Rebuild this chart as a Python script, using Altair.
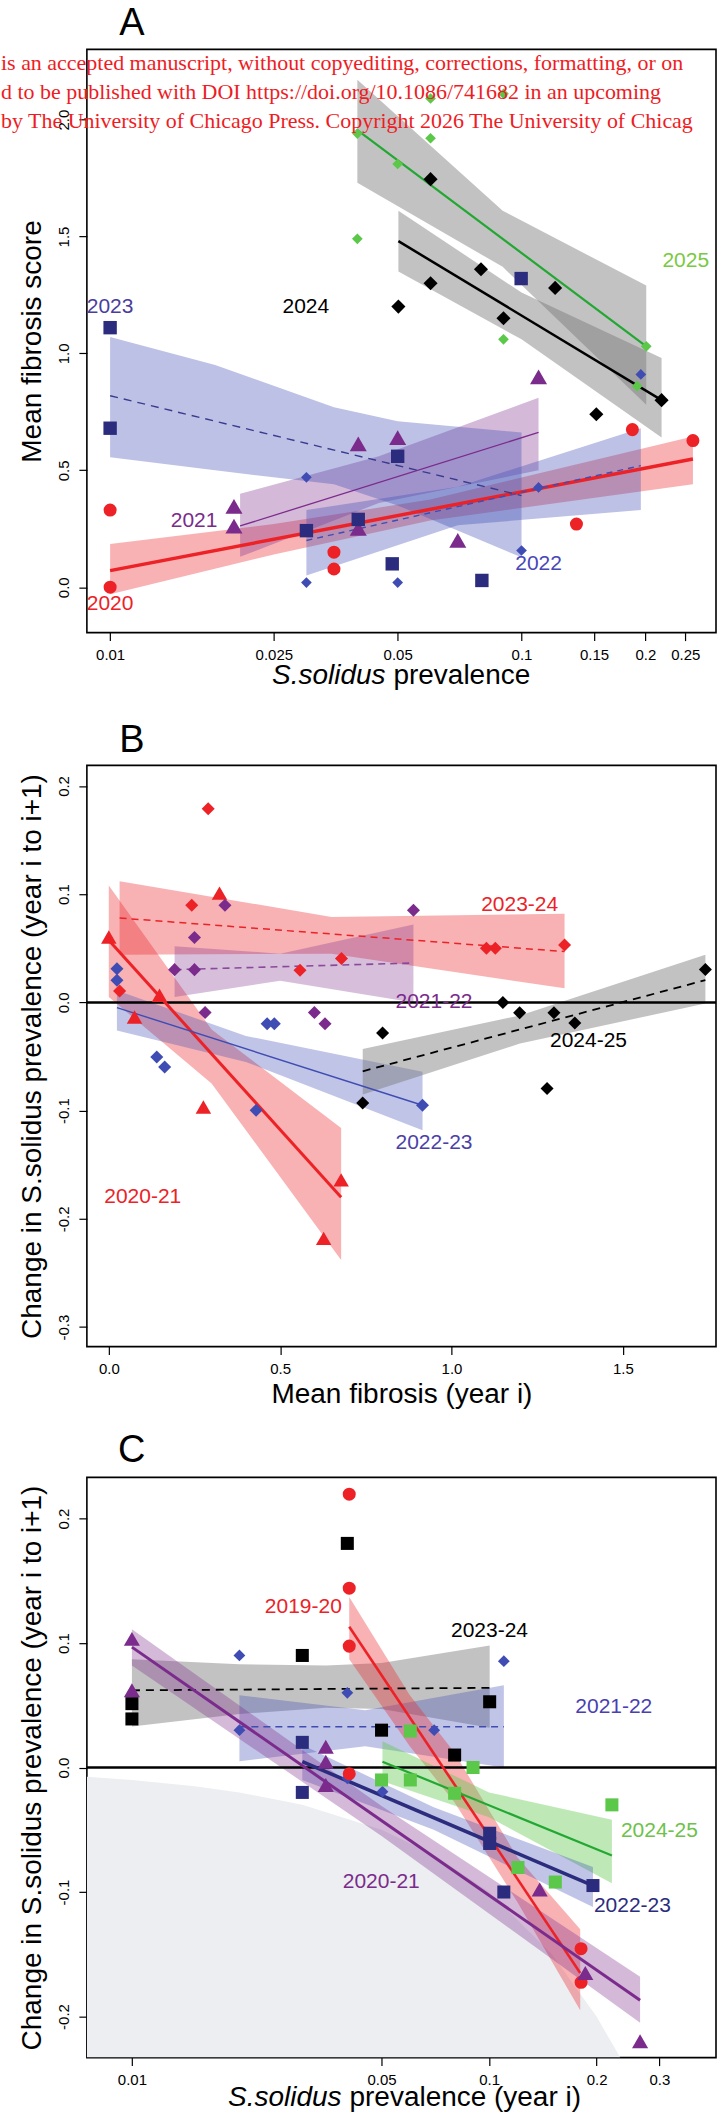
import altair as alt
import pandas as pd

FONT = "Liberation Sans"
W = 630
HA, HB, HC = 584, 582, 581

# ---------------- Panel A : mean fibrosis vs prevalence ----------------
A_X_DOMAIN = [0.00878, 0.297]
A_Y_DOMAIN = [-0.194, 2.30]
A_X_TICKS = [0.01, 0.025, 0.05, 0.1, 0.15, 0.2, 0.25]
A_Y_TICKS = [0.0, 0.5, 1.0, 1.5, 2.0]

A20_X = [0.01, 0.01, 0.035, 0.035, 0.136, 0.186, 0.261]
A20_Y = [0.33, 0.0, 0.15, 0.078, 0.27, 0.674, 0.627]
A20_LX = [0.01, 0.261]
A20_LY = [0.071, 0.548]
A20_BX = [0.01, 0.025, 0.06, 0.261]
A20_LO = [-0.03, 0.14, 0.285, 0.44]
A20_HI = [0.185, 0.27, 0.375, 0.645]

A21_X = [0.020, 0.020, 0.0401, 0.0401, 0.050, 0.070, 0.110]
A21_Y = [0.346, 0.261, 0.613, 0.252, 0.64, 0.20, 0.90]
A21_LX = [0.0207, 0.110]
A21_LY = [0.262, 0.662]
A21_BX = [0.0207, 0.045, 0.110]
A21_LO = [0.13, 0.36, 0.50]
A21_HI = [0.40, 0.56, 0.81]

A22_X = [0.030, 0.030, 0.050, 0.100, 0.110, 0.195]
A22_Y = [0.47, 0.02, 0.02, 0.157, 0.427, 0.91]
A22_LX = [0.030, 0.195]
A22_LY = [0.20, 0.52]
A22_BX = [0.030, 0.07, 0.195]
A22_LO = [0.05, 0.265, 0.33]
A22_HI = [0.33, 0.43, 0.68]

A23_X = [0.01, 0.01, 0.030, 0.0401, 0.0485, 0.050, 0.0801, 0.0998]
A23_Y = [1.11, 0.68, 0.242, 0.29, 0.10, 0.56, 0.029, 1.32]
A23_LX = [0.01, 0.1]
A23_LY = [0.819, 0.392]
A23_BX = [0.01, 0.018, 0.035, 0.05, 0.1]
A23_LO = [0.556, 0.50, 0.44, 0.35, 0.128]
A23_HI = [1.07, 0.95, 0.77, 0.71, 0.662]

A24_X = [0.0502, 0.0601, 0.0601, 0.0797, 0.0904, 0.1207, 0.152, 0.219]
A24_Y = [1.20, 1.30, 1.745, 1.36, 1.15, 1.28, 0.74, 0.80]
A24_LX = [0.0502, 0.219]
A24_LY = [1.48, 0.80]
A24_BX = [0.0502, 0.1, 0.219]
A24_LO = [1.35, 1.06, 0.64]
A24_HI = [1.61, 1.26, 0.98]

A25_X = [0.0399, 0.0399, 0.050, 0.0601, 0.0601, 0.0904, 0.0904, 0.191, 0.201]
A25_Y = [1.94, 1.49, 1.81, 2.09, 1.92, 2.11, 1.06, 0.86, 1.03]
A25_LX = [0.0399, 0.201]
A25_LY = [1.955, 1.03]
A25_BX = [0.0399, 0.09, 0.201]
A25_LO = [1.73, 1.37, 0.78]
A25_HI = [2.17, 1.61, 1.29]

A_LAB_TEXT = ["2020", "2021", "2022", "2023", "2024", "2025"]
A_LAB_X = [0.01, 0.016, 0.110, 0.01, 0.0299, 0.2507]
A_LAB_Y = [-0.071, 0.285, 0.10, 1.197, 1.197, 1.396]

# ---------------- Panel B : change vs mean fibrosis ----------------
B_X_DOMAIN = [-0.064, 1.772]
B_Y_DOMAIN = [-0.318, 0.219]
B_X_TICKS = [0.0, 0.5, 1.0, 1.5]
B_Y_TICKS = [-0.3, -0.2, -0.1, 0.0, 0.1, 0.2]

B2021_X = [0.0, 0.075, 0.148, 0.323, 0.276, 0.678, 0.627]
B2021_Y = [0.0605, -0.0134, 0.0066, 0.101, -0.0966, -0.164, -0.218]
B2021_LX = [0.0, 0.678]
B2021_LY = [0.0575, -0.18]
B2021_BX = [0.0, 0.3, 0.678]
B2021_LO = [0.005, -0.075, -0.238]
B2021_HI = [0.108, -0.025, -0.116]

B2122_X = [0.192, 0.250, 0.250, 0.339, 0.281, 0.600, 0.631, 0.889]
B2122_Y = [0.0303, 0.060, 0.0303, 0.0898, -0.0094, -0.0094, -0.0196, 0.0852]
B2122_LX = [0.192, 0.889]
B2122_LY = [0.0303, 0.0364]
B2122_BX = [0.192, 0.5, 0.889]
B2122_LO = [0.005, 0.02, 0.0]
B2122_HI = [0.052, 0.045, 0.072]

B2223_X = [0.0237, 0.0237, 0.140, 0.163, 0.430, 0.462, 0.483, 0.9155]
B2223_Y = [0.0312, 0.0205, -0.0504, -0.0596, -0.0997, -0.0196, -0.0196, -0.095]
B2223_LX = [0.0237, 0.9155]
B2223_LY = [-0.0048, -0.095]
B2223_BX = [0.0237, 0.4, 0.9155]
B2223_LO = [-0.026, -0.055, -0.118]
B2223_HI = [0.011, -0.031, -0.064]

B2324_X = [0.0315, 0.242, 0.290, 0.558, 0.679, 1.102, 1.128, 1.330]
B2324_Y = [0.0106, 0.0898, 0.179, 0.0297, 0.0405, 0.050, 0.050, 0.053]
B2324_LX = [0.0315, 1.330]
B2324_LY = [0.078, 0.047]
B2324_BX = [0.0315, 0.65, 1.330]
B2324_LO = [0.044, 0.045, 0.013]
B2324_HI = [0.112, 0.079, 0.082]

B2425_X = [0.741, 0.799, 1.150, 1.199, 1.299, 1.279, 1.36, 1.741]
B2425_Y = [-0.0929, -0.0282, 0.0, -0.0096, -0.0096, -0.0795, -0.019, 0.0305]
B2425_LX = [0.741, 1.741]
B2425_LY = [-0.0636, 0.0206]
B2425_BX = [0.741, 1.2, 1.741]
B2425_LO = [-0.085, -0.038, -0.001]
B2425_HI = [-0.043, -0.012, 0.044]

B_LAB_TEXT = ["2023-24", "2021-22", "2022-23", "2024-25", "2020-21"]
B_LAB_X = [1.199, 0.949, 0.949, 1.40, 0.099]
B_LAB_Y = [0.090, 0.0, -0.130, -0.0354, -0.180]

# ---------------- Panel C : change vs prevalence ----------------
C_X_DOMAIN = [0.00748, 0.432]
C_Y_DOMAIN = [-0.233, 0.233]
C_X_TICKS = [0.01, 0.05, 0.1, 0.2, 0.3]
C_Y_TICKS = [-0.2, -0.1, 0.0, 0.1, 0.2]

C_BOUND_X = [0.00748, 0.01, 0.015, 0.02, 0.03, 0.05, 0.07, 0.1, 0.15, 0.2, 0.233]
C_BOUND_Y = [-0.00748, -0.01, -0.015, -0.02, -0.03, -0.05, -0.07, -0.1, -0.15, -0.2, -0.233]

C1920_X = [0.0406, 0.0406, 0.0406, 0.0406, 0.181, 0.181]
C1920_Y = [0.2195, 0.144, 0.0975, -0.005, -0.1455, -0.1725]
C1920_LX = [0.0406, 0.18]
C1920_LY = [0.113, -0.165]
C1920_BX = [0.0406, 0.06, 0.08, 0.12, 0.18]
C1920_LO = [0.087, 0.017, -0.028, -0.108, -0.195]
C1920_HI = [0.137, 0.058, 0.012, -0.072, -0.13]

C2021_X = [0.01, 0.01, 0.0349, 0.0349, 0.0349, 0.1386, 0.186, 0.2648]
C2021_Y = [0.1033, 0.062, 0.0167, 0.0047, -0.014, -0.098, -0.165, -0.2198]
C2021_LX = [0.01, 0.2648]
C2021_LY = [0.0967, -0.187]
C2021_BX = [0.01, 0.05, 0.2648]
C2021_LO = [0.082, -0.055, -0.205]
C2021_HI = [0.111, -0.031, -0.168]

C2122_X = [0.0200, 0.0200, 0.0401, 0.0702, 0.110, 0.0401, 0.0503]
C2122_Y = [0.090, 0.030, 0.060, 0.030, 0.0854, -0.0087, -0.0194]
C2122_LX = [0.02, 0.11]
C2122_LY = [0.0327, 0.0327]
C2122_BX = [0.02, 0.045, 0.11]
C2122_LO = [0.005, 0.017, 0.0]
C2122_HI = [0.058, 0.046, 0.066]

C2223_X = [0.030, 0.030, 0.1004, 0.1004, 0.110, 0.1954]
C2223_Y = [0.0202, -0.020, -0.0528, -0.061, -0.100, -0.0948]
C2223_LX = [0.030, 0.1954]
C2223_LY = [0.0047, -0.0948]
C2223_BX = [0.030, 0.07, 0.1954]
C2223_LO = [-0.01, -0.05, -0.112]
C2223_HI = [0.018, -0.032, -0.08]

C2324_X = [0.01, 0.01, 0.030, 0.0401, 0.050, 0.0801, 0.1004]
C2324_Y = [0.0513, 0.039, 0.090, 0.180, 0.030, 0.010, 0.0528]
C2324_LX = [0.01, 0.1004]
C2324_LY = [0.062, 0.064]
C2324_BX = [0.01, 0.02, 0.035, 0.05, 0.1004]
C2324_LO = [0.033, 0.043, 0.048, 0.047, 0.032]
C2324_HI = [0.087, 0.083, 0.082, 0.084, 0.098]

C2425_X = [0.0602, 0.050, 0.0602, 0.0801, 0.0902, 0.1205, 0.1533, 0.2208]
C2425_Y = [0.0293, -0.010, -0.010, -0.0207, 0.0, -0.0803, -0.092, -0.030]
C2425_LX = [0.0503, 0.2208]
C2425_LY = [0.0047, -0.0707]
C2425_BX = [0.0503, 0.1, 0.2208]
C2425_LO = [-0.011, -0.04, -0.093]
C2425_HI = [0.021, -0.02, -0.042]

C_LAB_TEXT = ["2019-20", "2023-24", "2021-22", "2024-25", "2022-23", "2020-21"]
C_LAB_X = [0.0302, 0.1003, 0.2235, 0.30, 0.252, 0.0499]
C_LAB_Y = [0.1287, 0.110, 0.0486, -0.051, -0.1116, -0.0916]

WATERMARK = [
    "is an accepted manuscript, without copyediting, corrections, formatting, or on",
    "d to be published with DOI https://doi.org/10.1086/741682 in an upcoming",
    "by The University of Chicago Press. Copyright 2026 The University of Chicag",
]

# ---------------- styles ----------------
RED = "#ec2227"
PURPLE = "#7b2b8b"
BLUE = "#3f4cb4"
NAVY = "#2b2c7d"
BLACK = "#000000"
GREEN = "#5cc84a"
GREEN_LINE = "#22a832"
GRAYB = "#777777"


def lin_fmt():
    return "datum.value < 0 ? '-' + format(-datum.value, '.1f') : format(datum.value, '.1f')"


def make_axis(ticks, title, vertical, fmt_expr=None, fmt=None):
    kw = dict(
        values=ticks, grid=False, domain=False,
        tickSize=8, tickWidth=1.2, tickColor="black",
        labelFont=FONT, labelFontSize=15, labelColor="black",
        labelPadding=7, labelOverlap=False, labelFlush=False,
        titleFont=FONT, titleFontSize=28, titleFontWeight="normal",
        titleColor="black",
    )
    kw["title"] = title
    if fmt_expr:
        kw["labelExpr"] = fmt_expr
    if fmt:
        kw["format"] = fmt
    if vertical:
        kw.update(labelAngle=270, labelAlign="center", labelBaseline="bottom", titlePadding=10)
    else:
        kw.update(titlePadding=4)
    return alt.Axis(**kw)


def letter_mark(letter, dy):
    return alt.Chart(pd.DataFrame({"t": [letter]})).mark_text(
        align="center", baseline="middle", font=FONT, fontSize=38, color="black").encode(
        x=alt.value(45), y=alt.value(dy), text="t:N")


def build_panel(series, labels, xdom, ydom, xtype, xticks, yticks, xfmt, xtitle, ytitle,
                height, letter, letter_dy, zero_line=False, background=None, extra_top=None):
    xs = alt.Scale(type=xtype, domain=xdom, nice=False, zero=False)
    ys = alt.Scale(type="linear", domain=ydom, nice=False, zero=False)
    xax = make_axis(xticks, xtitle, False, None, xfmt)
    yax = make_axis(yticks, ytitle, True, lin_fmt())

    def X(f="x"):
        return alt.X(f"{f}:Q", scale=xs, axis=xax)

    def Y(f="y"):
        return alt.Y(f"{f}:Q", scale=ys, axis=yax)

    layers = []
    if background is not None:
        bx, by = background
        df = pd.DataFrame({"x": bx, "y": by})
        layers.append(alt.Chart(df).mark_area(color="#eceef1", clip=True).encode(
            x=X(), y=Y(), y2=alt.datum(ydom[0])))
    for s in series:
        df = pd.DataFrame({"x": s["bx"], "lo": s["lo"], "hi": s["hi"]})
        layers.append(alt.Chart(df).mark_area(color=s["band"], opacity=s["bop"]).encode(
            x=X(), y=Y("lo"), y2="hi:Q"))
    if zero_line:
        layers.append(alt.Chart(pd.DataFrame({"y": [0.0]})).mark_rule(
            color="black", strokeWidth=2.6).encode(y=Y()))
    for s in series:
        df = pd.DataFrame({"x": s["lx"], "y": s["ly"]})
        kw = dict(color=s["lc"], strokeWidth=s["lw"])
        if s["dash"]:
            kw["strokeDash"] = s["dash"]
        layers.append(alt.Chart(df).mark_line(**kw).encode(x=X(), y=Y()))
    for s in series:
        df = pd.DataFrame({"x": s["px"], "y": s["py"]})
        layers.append(alt.Chart(df).mark_point(
            filled=True, shape=s["shape"], size=s["size"], color=s["pc"],
            opacity=1, strokeWidth=0).encode(x=X(), y=Y()))
    ltext, lx, ly, lcol = labels
    for t, xv, yv, c in zip(ltext, lx, ly, lcol):
        df = pd.DataFrame({"x": [xv], "y": [yv], "t": [t]})
        layers.append(alt.Chart(df).mark_text(
            color=c, font=FONT, fontSize=21, align="center", baseline="middle").encode(
            x=X(), y=Y(), text="t:N"))
    layers.append(letter_mark(letter, letter_dy))
    if extra_top:
        layers.extend(extra_top)
    return alt.layer(*layers).properties(width=W, height=height)


def split_title(italic, rest, xc, yv):
    a = alt.Chart(pd.DataFrame({"t": [italic]})).mark_text(
        align="right", baseline="middle", font=FONT, fontSize=28, fontStyle="italic",
        color="black").encode(x=alt.value(xc), y=alt.value(yv), text="t:N")
    b = alt.Chart(pd.DataFrame({"t": [rest]})).mark_text(
        align="left", baseline="middle", font=FONT, fontSize=28, color="black").encode(
        x=alt.value(xc + 8), y=alt.value(yv), text="t:N")
    return [a, b]


def wm_layers():
    out = []
    for i, line in enumerate(WATERMARK):
        out.append(alt.Chart(pd.DataFrame({"t": [line]})).mark_text(
            align="left", baseline="middle", font="Liberation Serif", fontSize=22,
            color="#ee1c24", limit=717, ellipsis=" ").encode(
            x=alt.value(-86), y=alt.value(14 + 29 * i), text="t:N"))
    return out


def S(px, py, lx, ly, bx, lo, hi, shape, size, pc, lc, lw, band, dash=None, bop=0.38):
    return dict(px=px, py=py, lx=lx, ly=ly, bx=bx, lo=lo, hi=hi, shape=shape, size=size,
                pc=pc, lc=lc, lw=lw, band=band, dash=dash, bop=bop)


A_series = [
    S(A20_X, A20_Y, A20_LX, A20_LY, A20_BX, A20_LO, A20_HI, "circle", 170, RED, RED, 3.5, RED, bop=0.35),
    S(A21_X, A21_Y, A21_LX, A21_LY, A21_BX, A21_LO, A21_HI, "triangle-up", 290, PURPLE, PURPLE, 1.3, PURPLE, bop=0.33),
    S(A22_X, A22_Y, A22_LX, A22_LY, A22_BX, A22_LO, A22_HI, "diamond", 115, BLUE, BLUE, 1.4, BLUE, dash=[6, 5], bop=0.35),
    S(A23_X, A23_Y, A23_LX, A23_LY, A23_BX, A23_LO, A23_HI, "square", 180, NAVY, "#3a3b8e", 1.4, BLUE, dash=[8, 6], bop=0.35),
    S(A24_X, A24_Y, A24_LX, A24_LY, A24_BX, A24_LO, A24_HI, "diamond", 200, BLACK, BLACK, 2.5, GRAYB, bop=0.45),
    S(A25_X, A25_Y, A25_LX, A25_LY, A25_BX, A25_LO, A25_HI, "diamond", 115, GREEN, GREEN_LINE, 2.2, GRAYB, bop=0.45),
]
A_lab_col = [RED, PURPLE, "#4747b8", "#4a3d9e", BLACK, "#7ac943"]

B_series = [
    S(B2021_X, B2021_Y, B2021_LX, B2021_LY, B2021_BX, B2021_LO, B2021_HI, "triangle-up", 240, RED, RED, 3.0, RED, bop=0.35),
    S(B2324_X, B2324_Y, B2324_LX, B2324_LY, B2324_BX, B2324_LO, B2324_HI, "diamond", 170, RED, RED, 1.5, RED, dash=[7, 5], bop=0.35),
    S(B2122_X, B2122_Y, B2122_LX, B2122_LY, B2122_BX, B2122_LO, B2122_HI, "diamond", 170, PURPLE, "#8a4a9a", 1.6, PURPLE, dash=[7, 5], bop=0.3),
    S(B2223_X, B2223_Y, B2223_LX, B2223_LY, B2223_BX, B2223_LO, B2223_HI, "diamond", 170, BLUE, BLUE, 1.4, BLUE, bop=0.33),
    S(B2425_X, B2425_Y, B2425_LX, B2425_LY, B2425_BX, B2425_LO, B2425_HI, "diamond", 170, BLACK, BLACK, 1.8, GRAYB, dash=[8, 6], bop=0.45),
]
B_lab_col = [RED, PURPLE, "#4b3fa8", BLACK, RED]

C_series = [
    S(C2324_X, C2324_Y, C2324_LX, C2324_LY, C2324_BX, C2324_LO, C2324_HI, "square", 170, BLACK, BLACK, 1.8, GRAYB, dash=[8, 6], bop=0.45),
    S(C2122_X, C2122_Y, C2122_LX, C2122_LY, C2122_BX, C2122_LO, C2122_HI, "diamond", 140, BLUE, BLUE, 1.4, BLUE, dash=[7, 5], bop=0.33),
    S(C1920_X, C1920_Y, C1920_LX, C1920_LY, C1920_BX, C1920_LO, C1920_HI, "circle", 170, RED, RED, 2.6, RED, bop=0.35),
    S(C2425_X, C2425_Y, C2425_LX, C2425_LY, C2425_BX, C2425_LO, C2425_HI, "square", 170, GREEN, GREEN_LINE, 2.2, GREEN, bop=0.4),
    S(C2223_X, C2223_Y, C2223_LX, C2223_LY, C2223_BX, C2223_LO, C2223_HI, "square", 170, NAVY, NAVY, 3.6, BLUE, bop=0.33),
    S(C2021_X, C2021_Y, C2021_LX, C2021_LY, C2021_BX, C2021_LO, C2021_HI, "triangle-up", 260, PURPLE, PURPLE, 3.0, PURPLE, bop=0.33),
]
C_lab_col = [RED, BLACK, "#4a3fb0", "#6cc24a", NAVY, PURPLE]

YT = "Change in S.solidus prevalence (year i to i+1)"

panel_a = build_panel(
    A_series, (A_LAB_TEXT, A_LAB_X, A_LAB_Y, A_lab_col), A_X_DOMAIN, A_Y_DOMAIN, "log",
    A_X_TICKS, A_Y_TICKS, "~g", None, "Mean fibrosis score", HA, "A", -25,
    extra_top=split_title("S.solidus", "prevalence", 299, HA + 43) + wm_layers())

panel_b = build_panel(
    B_series, (B_LAB_TEXT, B_LAB_X, B_LAB_Y, B_lab_col), B_X_DOMAIN, B_Y_DOMAIN, "linear",
    B_X_TICKS, B_Y_TICKS, ".1f", "Mean fibrosis (year i)", YT, HB, "B", -24, zero_line=True)

panel_c = build_panel(
    C_series, (C_LAB_TEXT, C_LAB_X, C_LAB_Y, C_lab_col), C_X_DOMAIN, C_Y_DOMAIN, "log",
    C_X_TICKS, C_Y_TICKS, "~g", None, YT, HC, "C", -26, zero_line=True,
    background=(C_BOUND_X, C_BOUND_Y),
    extra_top=split_title("S.solidus", "prevalence (year i)", 255, HC + 40))

lower = alt.vconcat(panel_b, panel_c, spacing=22)
chart = alt.vconcat(panel_a, lower, spacing=31).properties(
    padding={"left": 0, "top": 3, "right": 0, "bottom": 0},
    background="white",
).configure_view(stroke="black", strokeWidth=1.6)

chart.save("out.html", embed_options={"renderer": "svg", "actions": False})
